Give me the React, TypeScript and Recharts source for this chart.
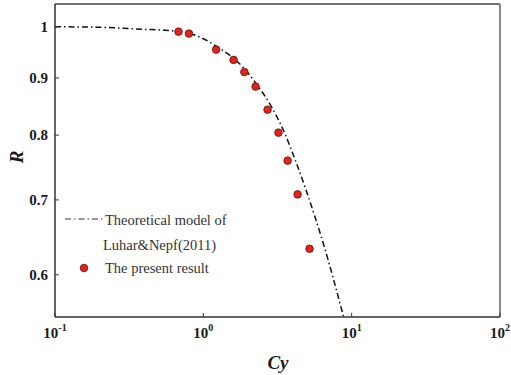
// Drag reduction R against Cauchy number Cy, log-log axes,
// theoretical model (dash-dot) and measured points (red dots)
import * as React from 'react';
import { ComposedChart, Line, Scatter, XAxis, YAxis, ReferenceLine } from 'recharts';

const MODEL_CY = [0.1, 0.2, 0.393, 0.554, 0.699, 0.843, 1.0, 1.224, 1.595, 1.892, 2.246, 2.88, 3.526, 4.183, 4.889, 6.469, 8.83];
const MODEL_R = [1.0, 0.999, 0.9949, 0.9928, 0.9898, 0.9847, 0.9756, 0.9607, 0.9372, 0.9171, 0.8911, 0.8481, 0.8038, 0.7588, 0.7164, 0.6385, 0.55];

const PRESENT_CY = [0.68, 0.8, 1.22, 1.6, 1.89, 2.25, 2.71, 3.21, 3.7, 4.32, 5.2];
const PRESENT_R = [0.99, 0.986, 0.954, 0.934, 0.911, 0.884, 0.843, 0.804, 0.759, 0.708, 0.633];

const X_TICKS = [0.1, 1, 10, 100];
const X_TICK_EXP = ['-1', '0', '1', '2'];
const Y_TICKS = [0.6, 0.7, 0.8, 0.9, 1];
const Y_TICK_LABELS = ['0.6', '0.7', '0.8', '0.9', '1'];

const X_DOMAIN = [0.1, 100];
const Y_DOMAIN = [0.55, 1.048];

const SERIF = '"Liberation Serif", "Times New Roman", serif';
const DOT_FILL = '#e3221b';
const DOT_STROKE = '#5e1410';
const DASH = '6 3 1.5 3';

const modelData = MODEL_CY.map((cy, i) => ({ cy, r: MODEL_R[i] }));
const presentData = PRESENT_CY.map((cy, i) => ({ cy, r: PRESENT_R[i] }));

function XTick(props: any) {
  const { x, y, index } = props;
  return (
    <g>
      <line x1={x} x2={x} y1={y - 4} y2={y} stroke="#333" strokeWidth={1} />
      <text x={x} y={y + 21} textAnchor="middle" fontFamily={SERIF} fontWeight="bold" fontSize={15} fill="#1a1a1a">
        <tspan>10</tspan>
        <tspan dy={-7} fontSize={10}>{X_TICK_EXP[index]}</tspan>
      </text>
    </g>
  );
}

function YTick(props: any) {
  const { x, y, index } = props;
  return (
    <g>
      <line x1={x} x2={x + 4} y1={y} y2={y} stroke="#333" strokeWidth={1} />
      <text x={x - 7} y={y + 5} textAnchor="end" fontFamily={SERIF} fontWeight="bold" fontSize={15} fill="#1a1a1a">
        {Y_TICK_LABELS[index]}
      </text>
    </g>
  );
}

function Dot(props: any) {
  return <circle cx={props.cx} cy={props.cy} r={3.8} fill={DOT_FILL} stroke={DOT_STROKE} strokeWidth={0.8} />;
}

export default function App() {
  return (
    <div style={{ position: 'absolute', left: 0, top: 0, width: 511, height: 375, background: '#fff' }}>
      <ComposedChart width={511} height={375} margin={{ top: 4, right: 11, bottom: 0, left: 0 }}>
        <XAxis
          dataKey="cy"
          type="number"
          scale="log"
          domain={X_DOMAIN}
          ticks={X_TICKS}
          allowDataOverflow
          height={58}
          tickSize={0}
          tickMargin={0}
          tick={<XTick />}
          axisLine={{ stroke: '#333', strokeWidth: 1.5 }}
          interval={0}
        />
        <YAxis
          dataKey="r"
          type="number"
          scale="log"
          domain={Y_DOMAIN}
          ticks={Y_TICKS}
          allowDataOverflow
          width={55}
          tickSize={0}
          tickMargin={0}
          tick={<YTick />}
          axisLine={{ stroke: '#333', strokeWidth: 1.5 }}
          interval={0}
        />
        <ReferenceLine y={Y_DOMAIN[1]} stroke="#444" strokeWidth={1.5} />
        <ReferenceLine x={X_DOMAIN[1]} stroke="#888" strokeWidth={2} />
        <Line
          data={modelData}
          dataKey="r"
          type="monotone"
          stroke="#111"
          strokeWidth={1.5}
          strokeDasharray={DASH}
          dot={false}
          isAnimationActive={false}
        />
        <Scatter data={presentData} dataKey="r" shape={<Dot />} isAnimationActive={false} />
      </ComposedChart>
      <svg width={511} height={375} style={{ position: 'absolute', left: 0, top: 0, pointerEvents: 'none' }}>
        <text
          x={23}
          y={157}
          transform="rotate(-90 23 157)"
          textAnchor="middle"
          fontFamily={SERIF}
          fontWeight="bold"
          fontStyle="italic"
          fontSize={19}
          fill="#1a1a1a"
        >
          R
        </text>
        <text x={278} y={369} textAnchor="middle" fontFamily={SERIF} fontWeight="bold" fontStyle="italic" fontSize={19} fill="#1a1a1a">
          Cy
        </text>
        <line x1={65} x2={103} y1={219} y2={219} stroke="#333" strokeWidth={1.2} strokeDasharray={DASH} />
        <text x={105} y={224.5} fontFamily={SERIF} fontSize={14.5} fill="#333">Theoretical model of</text>
        <text x={103} y={249.5} fontFamily={SERIF} fontSize={14.5} fill="#333">Luhar&amp;Nepf(2011)</text>
        <circle cx={84} cy={268} r={3.8} fill={DOT_FILL} stroke={DOT_STROKE} strokeWidth={0.8} />
        <text x={105} y={273} fontFamily={SERIF} fontSize={14.5} fill="#333">The present result</text>
      </svg>
    </div>
  );
}
